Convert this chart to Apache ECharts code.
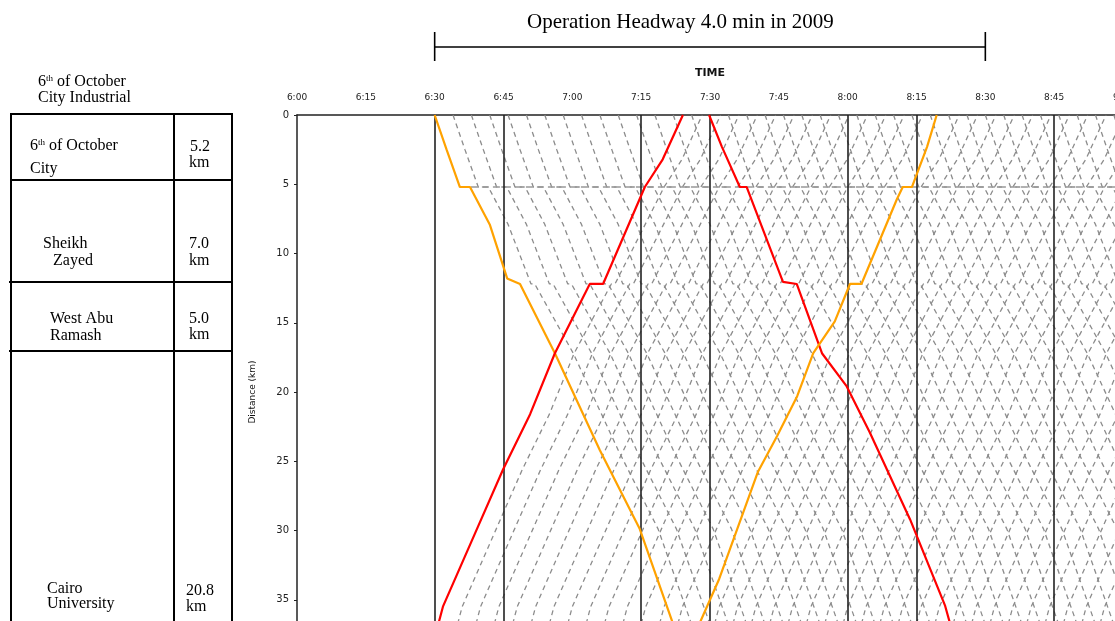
<!DOCTYPE html>
<html>
<head>
<meta charset="utf-8">
<script src="https://cdn.jsdelivr.net/npm/echarts@6/dist/echarts.min.js"></script>
<style>
  html, body { margin: 0; padding: 0; background: #fff; }
  #chart { width: 1115px; height: 621px; }
</style>
</head>
<body>
<div id="chart"></div>
<script>
  // time axis in minutes from 6:00, distance axis in km
  var X_LABELS = ['6:00', '6:15', '6:30', '6:45', '7:00', '7:15', '7:30', '7:45', '8:00', '8:15', '8:30', '8:45', '9:00'];
  var VLINES = [30, 45, 75, 90, 120, 135, 165];
  var STATION_LINE = [[35.5, 5.2], [180, 5.2]];

  // highlighted round trip (orange / red)
  var ORANGE_DOWN = [[30, 0], [32.6, 2.5], [35.5, 5.2], [37.7, 5.2], [42.0, 7.9], [45.8, 11.8], [48.6, 12.2],
    [56.2, 17.2], [66.0, 24.2], [74.7, 29.9], [81.7, 36.5], [82.8, 38]];
  var RED_UP = [[29.8, 38], [31.8, 35.5], [39.2, 29.9], [44.9, 25.6], [50.8, 21.6], [56.2, 17.2], [63.8, 12.2],
    [66.7, 12.2], [75.8, 5.2], [79.7, 3.2], [84.1, 0]];
  var RED_DOWN = [[89.8, 0], [92.6, 2.3], [96.5, 5.2], [98.0, 5.2], [105.9, 12.05], [108.9, 12.2], [114.4, 17.2],
    [119.8, 19.6], [124.8, 22.9], [133.6, 29.2], [141.2, 35.4], [143.4, 38]];
  var ORANGE_UP = [[86.0, 38], [92.0, 33.5], [100.4, 25.8], [104.6, 23.2], [109.0, 20.3], [112.5, 17.2],
    [117.2, 14.9], [120.5, 12.2], [123.0, 12.2], [130.7, 6.1], [132.0, 5.2], [134.0, 5.2], [137.3, 2.3], [139.4, 0]];

  // running profile of the other trains (minutes after departure, km)
  var DOWN_T = [0, 2.6, 5.5, 7.7, 12.0, 17.0, 17.8, 26.2, 36.0, 44.7, 51.7, 52.8];
  var DOWN_KM = [0, 2.5, 5.2, 5.2, 7.9, 12.2, 12.2, 17.2, 24.2, 29.9, 36.5, 38];
  var UP_T = [0, 2.0, 9.4, 15.1, 21.0, 26.4, 34.5, 35.3, 46.0, 49.9, 54.3];
  var UP_KM = [38, 35.5, 29.9, 25.6, 21.6, 17.2, 12.2, 12.2, 5.2, 3.2, 0];

  // departures every 4 min
  var DOWN_DEP = [34, 38, 42, 46, 50, 54, 58, 62, 66, 70, 74, 78, 82, 86, 94, 98, 102, 106, 110, 114, 118,
    122, 126, 130, 134, 138, 142, 146, 150, 154, 158, 162, 166, 170, 174, 178];
  var UP_DEP = [34, 38, 42, 46, 50, 54, 58, 62, 66, 70, 74, 78, 82, 90, 94, 98, 102, 106, 110, 114, 118,
    122, 126, 130, 134, 138, 142, 146, 150, 154, 158, 162, 166, 170, 174, 178];

  var chart = echarts.init(document.getElementById('chart'));

  function trip(dep, T, KM) {
    return T.map(function (t, i) { return [dep + t, KM[i]]; });
  }

  var series = [];
  DOWN_DEP.forEach(function (d) {
    series.push({
      type: 'line', data: trip(d, DOWN_T, DOWN_KM), symbol: 'none', silent: true,
      lineStyle: { color: '#8c8c8c', width: 1.3, type: [5, 4] }
    });
  });
  UP_DEP.forEach(function (d) {
    series.push({
      type: 'line', data: trip(d, UP_T, UP_KM), symbol: 'none', silent: true,
      lineStyle: { color: '#8c8c8c', width: 1.3, type: [5, 4] }
    });
  });
  series.push({
    type: 'line', data: STATION_LINE, symbol: 'none', silent: true,
    lineStyle: { color: '#999', width: 1.3, type: [7, 4] },
    markLine: {
      silent: true, symbol: 'none', label: { show: false },
      lineStyle: { color: '#222', width: 1.6, type: 'solid' },
      data: VLINES.map(function (v) { return { xAxis: v }; })
    }
  });
  [[ORANGE_DOWN, '#ffa200'], [RED_UP, '#ff0000'], [RED_DOWN, '#ff0000'], [ORANGE_UP, '#ffa200']].forEach(function (s) {
    series.push({
      type: 'line', data: s[0], symbol: 'none', silent: true, z: 5,
      lineStyle: { color: s[1], width: 2.2 }
    });
  });

  var serif = 'Liberation Serif';
  function txt(x, y, t, size, extra) {
    var o = { type: 'text', left: x, top: y, style: { text: t, font: (size || 16) + 'px "' + serif + '"', fill: '#000' } };
    if (extra) { o.style.rich = extra; }
    return o;
  }
  function line(x1, y1, x2, y2, w) {
    return { type: 'line', shape: { x1: x1, y1: y1, x2: x2, y2: y2 }, style: { stroke: '#000', lineWidth: w || 2 } };
  }
  var sup = { s: { fontSize: 9, verticalAlign: 'top', padding: [0, 0, 6, 0], fontFamily: serif } };

  var option = {
    animation: false,
    backgroundColor: '#fff',
    grid: { left: 297, top: 115, width: 826, height: 554, show: false, outerBoundsMode: 'none', containLabel: false },
    xAxis: {
      type: 'value', position: 'top', min: 0, max: 180, interval: 15,
      name: 'TIME', nameLocation: 'middle', nameGap: 36,
      nameTextStyle: { fontSize: 11, fontWeight: 'bold', color: '#111', fontFamily: 'DejaVu Sans' },
      axisLine: { show: true, lineStyle: { color: '#222', width: 1.5 } },
      axisTick: { show: false },
      splitLine: { show: false },
      axisLabel: {
        margin: 13, fontSize: 9, color: '#222', fontFamily: 'DejaVu Sans',
        formatter: function (v) { return X_LABELS[Math.round(v / 15)]; }
      }
    },
    yAxis: {
      type: 'value', inverse: true, min: 0, max: 40, interval: 5,
      name: 'Distance (km)', nameLocation: 'middle', nameGap: 40, nameRotate: 90,
      nameTextStyle: { fontSize: 9, color: '#111', fontFamily: 'DejaVu Sans' },
      axisLine: { show: true, lineStyle: { color: '#222', width: 1.5 } },
      axisTick: { show: true, length: 3, lineStyle: { color: '#222' } },
      splitLine: { show: false },
      axisLabel: { margin: 8, fontSize: 10, color: '#222', fontFamily: 'DejaVu Sans' }
    },
    series: series
  };
  chart.setOption(option);

  var bx1 = chart.convertToPixel({ xAxisIndex: 0 }, 30);
  var bx2 = chart.convertToPixel({ xAxisIndex: 0 }, 150);

  chart.setOption({
    graphic: [
      // headway bracket
      { type: 'text', left: 527, top: 12,
        style: { text: 'Operation Headway 4.0 min in 2009', font: '21px "' + serif + '"', fill: '#000' } },
      line(bx1, 47, bx2, 47, 1.6), line(bx1, 32, bx1, 61, 1.6), line(bx2, 32, bx2, 61, 1.6),
      // station table
      txt(38, 74, '6{s|th} of October', 16, sup),
      txt(38, 90, 'City Industrial', 16),
      line(11, 114, 232, 114), line(11, 180, 232, 180), line(9, 282, 232, 282), line(9, 351, 232, 351),
      line(11, 113, 11, 621), line(174, 113, 174, 621), line(232, 113, 232, 621),
      txt(30, 138, '6{s|th} of October', 16, sup), txt(30, 161, 'City', 16),
      txt(190, 139, '5.2', 16), txt(189, 155, 'km', 16),
      txt(43, 236, 'Sheikh', 16), txt(53, 253, 'Zayed', 16),
      txt(189, 236, '7.0', 16), txt(189, 253, 'km', 16),
      txt(50, 311, 'West Abu', 16), txt(50, 328, 'Ramash', 16),
      txt(189, 311, '5.0', 16), txt(189, 327, 'km', 16),
      txt(47, 581, 'Cairo', 16), txt(47, 596, 'University', 16),
      txt(186, 583, '20.8', 16), txt(186, 599, 'km', 16)
    ]
  });
</script>
</body>
</html>
